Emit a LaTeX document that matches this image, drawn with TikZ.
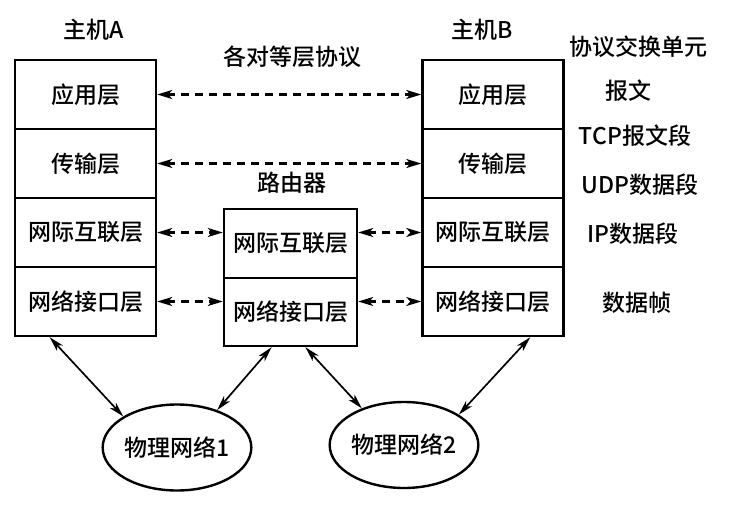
\documentclass[tikz,border=0pt]{standalone}
\usepackage{fontspec}
\setmainfont{Noto Sans CJK SC}[UprightFont=* Medium]
\usetikzlibrary{arrows.meta,shapes.geometric,calc}
\begin{document}
\begin{tikzpicture}[x=1pt,y=-1pt,
  txt/.style={font=\fontsize{23}{23}\selectfont, inner sep=0pt},
  layer/.style={draw, line width=2.4pt, minimum height=69pt, inner sep=0pt, font=\fontsize{23}{23}\selectfont},
  hostlayer/.style={layer, minimum width=141pt},
  routerlayer/.style={layer, minimum width=133pt},
  net/.style={draw, ellipse, line width=2.4pt, minimum width=140pt, minimum height=86pt, inner sep=0pt, font=\fontsize{23}{23}\selectfont},
  tip/.style={Stealth[length=15pt,width=9pt,inset=4pt]},
  peer/.style={line width=2.1pt, dash pattern=on 8pt off 6pt, {Stealth[length=15pt,width=9pt,inset=4pt]}-{Stealth[length=15pt,width=9pt,inset=4pt]}},
  link/.style={line width=1.7pt, {Stealth[length=15pt,width=8pt,inset=4pt]}-{Stealth[length=15pt,width=8pt,inset=4pt]}}
]
\useasboundingbox (0,0) rectangle (746,529);

% host A
\node[hostlayer] (A1) at (85.5,94.5) {应用层};
\node[hostlayer] (A2) at (85.5,163.5) {传输层};
\node[hostlayer] (A3) at (85.5,232.5) {网际互联层};
\node[hostlayer] (A4) at (85.5,301.5) {网络接口层};
% host B
\node[hostlayer] (B1) at (493,94.5) {应用层};
\node[hostlayer] (B2) at (493,163.5) {传输层};
\node[hostlayer] (B3) at (493,232.5) {网际互联层};
\node[hostlayer] (B4) at (493,301.5) {网络接口层};
% router
\node[routerlayer] (R1) at (290.5,243.5) {网际互联层};
\node[routerlayer, minimum height=68pt] (R2) at (290.5,312) {网络接口层};

% networks
\node[net] (E1) at (177,447.5) {物理网络1};
\node[net] (E2) at (404,445) {物理网络2};

% titles
\node[txt] (tA) at (94,30) {主机A};
\node[txt] (tB) at (482,30) {主机B};
\node[txt] (tP) at (292,57) {各对等层协议};
\node[txt] (tR) at (292,183) {路由器};

% right column
\node[txt] (u0) at (638,47) {协议交换单元};
\node[txt] (u1) at (628,91) {报文};
\node[txt] (u2) at (635,136) {TCP报文段};
\node[txt] (u3) at (640,185) {UDP数据段};
\node[txt] (u4) at (633,234) {IP数据段};
\node[txt] (u5) at (637,303) {数据帧};

% peer protocol arrows
\draw[peer] (A1.east) -- (B1.west);
\draw[peer] (A2.east) -- (B2.west);
\draw[peer] (A3.east) -- (A3.east -| R1.west);
\draw[peer] (R1.east |- B3.west) -- (B3.west);
\draw[peer] (A4.east) -- (A4.east -| R2.west);
\draw[peer] (R2.east |- B4.west) -- (B4.west);

% physical links
\draw[link] ($(A4.south west)!0.25!(A4.south east)$) -- (E1.150);
\draw[link] ($(R2.south west)!0.36!(R2.south east)$) -- (E1.43);
\draw[link] ($(R2.south west)!0.61!(R2.south east)$) -- (E2.139);
\draw[link] ($(B4.south west)!0.76!(B4.south east)$) -- (E2.29);
\end{tikzpicture}
\end{document}
